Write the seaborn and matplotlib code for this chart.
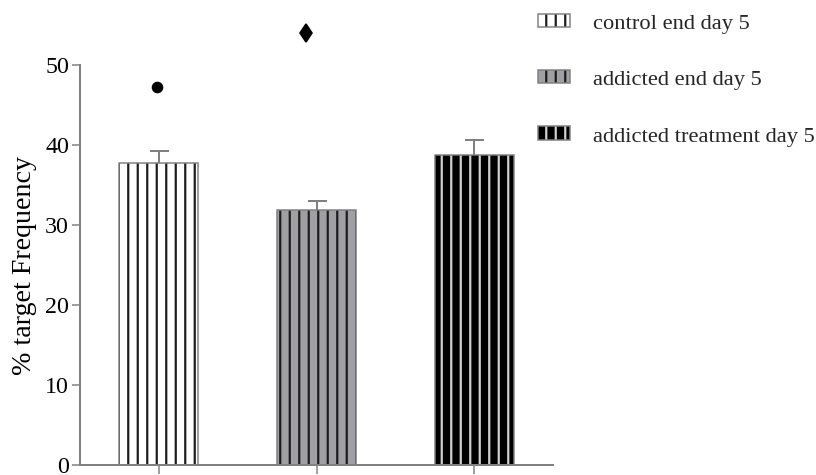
import matplotlib
matplotlib.use("Agg")
import matplotlib.pyplot as plt
import matplotlib.colors as mcolors
from matplotlib.container import BarContainer
import seaborn as sns
import pandas as pd

# ---- data -------------------------------------------------------------
groups = ["control end day 5", "addicted end day 5", "addicted treatment day 5"]
means = [37.7, 31.8, 38.7]
sems = [1.5, 1.2, 1.9]
sig_x = [-0.01, 0.93]
sig_y = [47.2, 54.0]
sig_markers = ["o", "d"]
y_ticks = [0, 10, 20, 30, 40, 50]
y_label = "% target Frequency"

# ---- styling ----------------------------------------------------------
face_colors = ["#ffffff", "#a0a0a4", "#000000"]
stripe_colors = ["#1c1c1c", "#1c1c1c", "#d2d2d2"]
axis_gray = "#808080"

DPI = 114
W, H = 816, 475


def pt(px):
    return px * 72.0 / DPI


sns.set_theme(style="ticks")
plt.rcParams["font.family"] = ["Liberation Serif", "DejaVu Serif"]
plt.rcParams["hatch.linewidth"] = pt(2.2)

fig = plt.figure(figsize=((W + 0.5) / DPI, (H + 0.5) / DPI), dpi=DPI)
ax = fig.add_axes([80 / W, 10 / H, 473 / W, 465 / H])

df = pd.DataFrame({"group": groups, "value": means})
sns.barplot(data=df, x="group", y="value", hue="group", order=groups,
            hue_order=groups, palette=face_colors, saturation=1, width=0.5,
            errorbar=None, legend=False, linewidth=pt(1.5),
            edgecolor=axis_gray, ax=ax)


def set_stripe_color(patch, color):
    if hasattr(patch, "set_hatchcolor"):
        patch.set_hatchcolor(color)
    else:
        patch._hatch_color = mcolors.to_rgba(color)
        patch.stale = True


bar_containers = [c for c in ax.containers if isinstance(c, BarContainer)]
for cont, sc in zip(bar_containers, stripe_colors):
    for p in cont.patches:
        p.set_hatch("||")
        set_stripe_color(p, sc)

# upper-only SEM whiskers
eb = ax.errorbar(x=range(len(means)), y=means,
                 yerr=[[0] * len(sems), sems], fmt="none",
                 ecolor=axis_gray, elinewidth=pt(2), capsize=pt(9.5),
                 capthick=pt(2), zorder=3)
for cap in eb.lines[1]:
    if list(cap.get_ydata()) == list(means):
        cap.set_visible(False)

# significance symbols
for x, y, m in zip(sig_x, sig_y, sig_markers):
    ax.plot([x], [y], marker=m, color="black", linestyle="none",
            markersize=pt(10 if m == "o" else 13), zorder=4)

ax.set_xlim(-0.5, 2.5)
ax.set_ylim(0, 465 / 8)
ax.set_yticks(y_ticks)
ax.set_xticks(range(len(groups)))
ax.set_xticklabels([])
ax.set_xlabel("")

sns.despine(ax=ax)
ax.spines["left"].set_bounds(0, 50)
for s in ("left", "bottom"):
    ax.spines[s].set_color(axis_gray)
    ax.spines[s].set_linewidth(pt(2))
ax.tick_params(axis="y", length=pt(8), width=pt(1.5), color=axis_gray,
               labelsize=pt(24), pad=pt(3), labelcolor="black")
ax.tick_params(axis="x", length=pt(9), width=pt(1.5), color=axis_gray)

ax.set_ylabel(y_label, fontsize=pt(28), color="black")
ax.yaxis.set_label_coords(-43 / 473, 25 / (465 / 8))

handles = [c.patches[0] for c in bar_containers]
leg = ax.legend(handles, groups, loc="upper left",
                bbox_to_anchor=(538 / W, 1 - 14 / H),
                bbox_transform=fig.transFigure, frameon=False,
                fontsize=pt(22.5), borderpad=0, borderaxespad=0,
                handlelength=1.42, handleheight=0.55, handletextpad=1.0,
                labelspacing=1.63)

fig.savefig("out.png", dpi=DPI)
